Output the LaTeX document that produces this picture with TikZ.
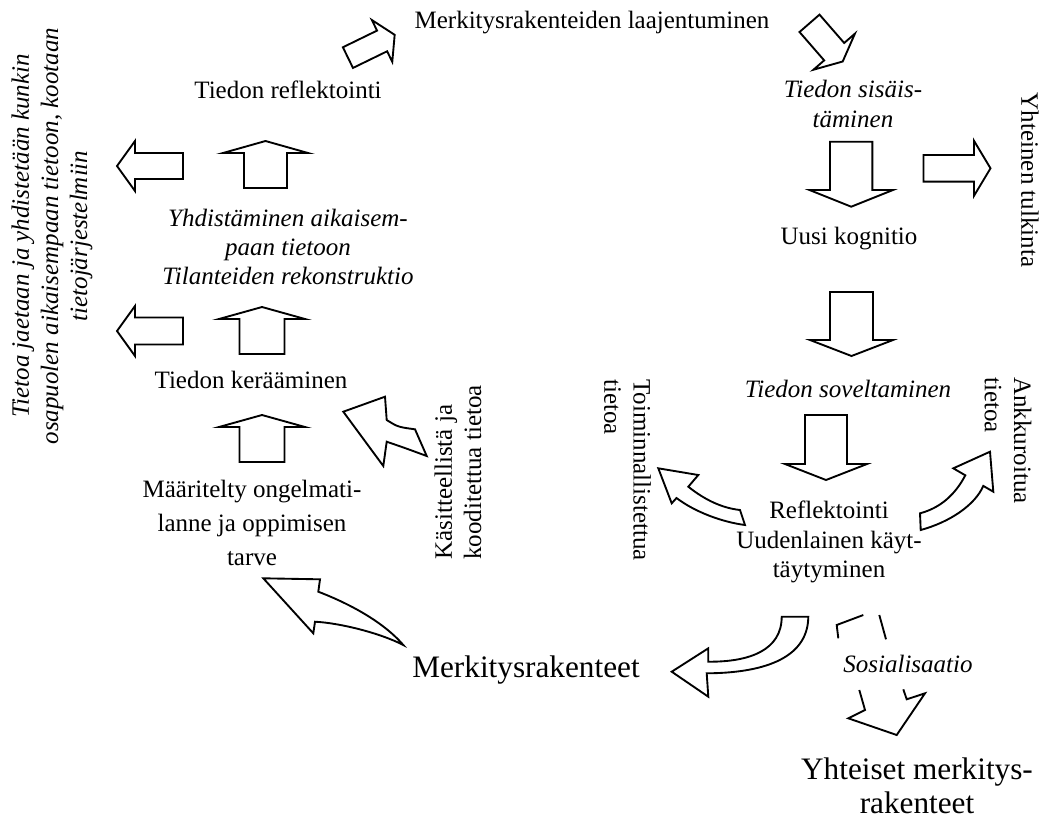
\documentclass[tikz,border=0pt]{standalone}
\usepackage{fontspec}
\setmainfont{Liberation Serif}
\usetikzlibrary{positioning}
\tikzset{lbl/.style={inner sep=0pt,align=center,font=\fontsize{12}{14}\selectfont},lbli/.style={lbl,font=\fontsize{12}{14}\selectfont\itshape},lblb/.style={lbl,font=\fontsize{15}{16.3}\selectfont},blk/.style={draw,line width=0.9pt,line join=miter}}

\begin{document}
\begin{tikzpicture}[x=0.48pt,y=-0.48pt]
\useasboundingbox (0,0) rectangle (1045,819);
% straight block arrows: centre / angle / length / shaft / head width / head length
\foreach\x/\y/\a/\l/\s/\w/\h in{371.3/46.2/26/52/23/46.5/14,826.1/42.4/-49/50.6/26.5/55/13,851.2/174.2/-90/65/42.4/83.5/16.7,957/168.3/0/67/26.7/55/16.5,851.5/324/-90/64/43/83/16,826/447.5/-90/65/42/82/16,265.5/164.5/90/47/43/85/12,262/330.5/90/47/45/86/12,262/438.5/90/47/45/86/12,150/166/180/66/26/50/18,150/331/180/66/27/50/18}
 \draw[blk,shift={(\x,\y)},rotate=\a](-\l/2,-\s/2)--(\l/2-\h,-\s/2)--(\l/2-\h,-\w/2)--(\l/2,0)--(\l/2-\h,\w/2)--(\l/2-\h,\s/2)--(-\l/2,\s/2)--cycle;
% curved block arrows
\draw[blk](343.3,411.7)--(385,396.7)--(386.7,420).. controls (398,427) .. (415,429.3)--(426.7,456).. controls (405,448) .. (386.7,441.7)--(383.3,466)--cycle;
\draw[blk](263.3,578.3)--(320,579.3)--(318.3,591.7).. controls (340,600) and (380,618) .. (403.3,645).. controls (380,633) and (340,623) .. (315,621.7)--(313.3,633.3)--cycle;
\draw[blk](658.3,468.3)--(698.3,475)--(688.3,486.7).. controls (705,500) and (722,508) .. (740,510)--(745,525).. controls (722,522) and (695,512) .. (676.5,498)--(671.7,503.3)--cycle;
\draw[blk](990,451.7)--(953.3,468.3)--(965.3,475.3).. controls (955,495) and (940,508) .. (920,513.3)--(920.7,530).. controls (950,522) and (975,505) .. (983.3,485.9)--(993.3,491.7)--cycle;
\draw[blk](671.7,671.7)--(708.3,648.3)--(708.3,661.7).. controls (750,662) and (781.7,650) .. (781.7,616.7)--(808.3,616.7).. controls (808,660) and (760,673) .. (706.7,673.3)--(708.3,696.7)--cycle;
\draw[blk](838.3,638.3)--(836.7,625)--(863.3,615);
\draw[blk](879.3,615)--(886,639.3);
\draw[blk](859.3,690)--(865,710)--(848.3,718.3)--(896.7,735)--(925,693.3)--(906.7,699.3)--(903.3,689.3);
% texts
\node[lbl](laaj)at(592,23){Merkitysrakenteiden laajentuminen};
\node[lbl](refl)at(288,90){Tiedon reflektointi};
\node[lbli](yhd)at(288,247){Yhdistäminen aikaisem-\\paan tietoon\\Tilanteiden rekonstruktio};
\node[lbl](ker)at(251,380){Tiedon kerääminen};
\node[lbl,font=\fontsize{12}{16.3}\selectfont](maar)at(252,523){Määritelty ongelmati-\\lanne ja oppimisen\\tarve};
\node[lbli,rotate=90](jaet)at(52,236){Tietoa jaetaan ja yhdistetään kunkin\\osapuolen aikaisempaan tietoon, kootaan\\tietojärjestelmiin};
\node[lbl,rotate=90,anchor=west,align=left](kasi)at(458,560){Käsitteellistä ja\\kooditettua tietoa};
\node[lbli](sis)at(853,104){Tiedon sisäis-\\täminen};
\node[lbl](uusi)at(849,239){Uusi kognitio};
\node[lbl,rotate=-90](tulk)at(1030,180){Yhteinen tulkinta};
\node[lbli](sov)at(848,389){Tiedon soveltaminen};
\node[lbl](uud)at(829,542){Reflektointi\\Uudenlainen käyt-\\täytyminen};
\node[lbl,rotate=-90,anchor=west,align=left](toim)at(627.5,379){Toiminnallistettua\\tietoa};
\node[lbl,rotate=-90,anchor=west,align=left](ankk)at(1008,377){Ankkuroitua\\tietoa};
\node[lblb](mrak)at(526,670){Merkitysrakenteet};
\node[lbli](sos)at(908,664){Sosialisaatio};
\node[lblb](yrak)at(917,786){Yhteiset merkitys-\\rakenteet};
\end{tikzpicture}
\end{document}
